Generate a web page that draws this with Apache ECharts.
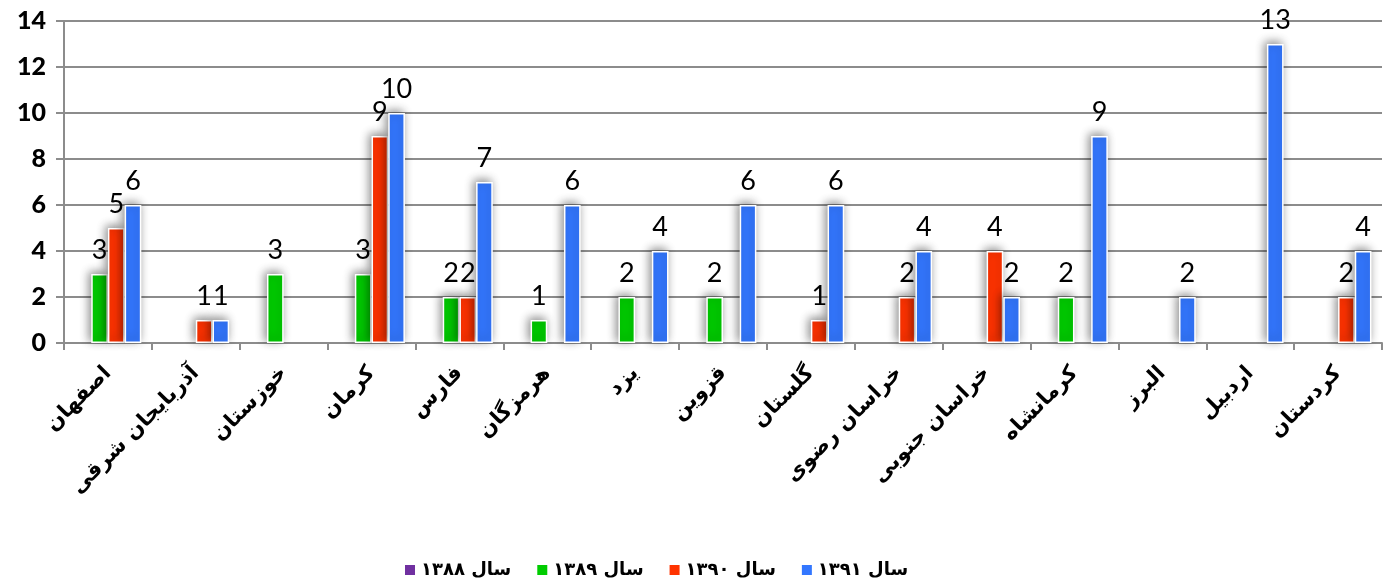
<!DOCTYPE html>
<html>
<head>
<meta charset="utf-8">
<script src="https://cdn.jsdelivr.net/npm/echarts@6/dist/echarts.min.js"></script>
<style>
  html, body { margin: 0; padding: 0; background: #fff; }
  #chart { width: 1389px; height: 583px; }
</style>
</head>
<body>
<div id="chart"></div>
<script>
// Provinces on the category axis
const provinces = ['اصفهان', 'آذربایجان شرقی', 'خوزستان', 'کرمان', 'فارس', 'هرمزگان', 'یزد', 'قزوین', 'گلستان', 'خراسان رضوی', 'خراسان جنوبی', 'کرمانشاه', 'البرز', 'اردبیل', 'کردستان'];

// Yearly counts per province ('-' = no record)
const year1388 = ['-', '-', '-', '-', '-', '-', '-', '-', '-', '-', '-', '-', '-', '-', '-'];
const year1389 = [3, '-', 3, 3, 2, 1, 2, 2, '-', '-', '-', 2, '-', '-', '-'];
const year1390 = [5, 1, '-', 9, 2, '-', '-', '-', 1, 2, 4, '-', '-', '-', 2];
const year1391 = [6, 1, '-', 10, 7, 6, 4, 6, 6, 4, 2, 9, 2, 13, 4];

const seriesNames = ['سال ۱۳۸۸', 'سال ۱۳۸۹', 'سال ۱۳۹۰', 'سال ۱۳۹۱'];
const seriesColors = ['#7030A0', '#00CC00', '#FF3300', '#3377FF'];
const seriesData = [year1388, year1389, year1390, year1391];

const chart = echarts.init(document.getElementById('chart'));

const series = seriesNames.map((name, i) => ({
  name: name,
  type: 'bar',
  data: seriesData[i],
  barGap: '0%',
  barCategoryGap: '24%',
  itemStyle: {
    color: seriesColors[i],
    borderColor: '#ffffff',
    borderWidth: 1.5,
    shadowColor: 'rgba(0,0,0,0.45)',
    shadowBlur: 10,
    shadowOffsetX: -2,
    shadowOffsetY: -2
  },
  label: {
    show: true,
    position: 'top',
    distance: 10,
    color: '#000',
    fontFamily: 'Lato, "DejaVu Sans", sans-serif',
    fontWeight: 'normal',
    fontSize: 27
  }
}));

chart.setOption({
  animation: false,
  backgroundColor: '#ffffff',
  grid: { left: 64, right: 7, top: 21, bottom: 240, containLabel: false },
  legend: {
    left: 398,
    top: 556,
    itemWidth: 12,
    itemHeight: 12,
    itemGap: 24,
    icon: 'rect',
    data: seriesNames,
    textStyle: {
      fontFamily: '"DejaVu Sans", sans-serif',
      fontWeight: 'bold',
      fontSize: 18,
      color: '#000'
    }
  },
  xAxis: {
    type: 'category',
    data: provinces,
    axisLine: { lineStyle: { color: '#8c8c8c', width: 2 } },
    axisTick: { show: true, length: 7, lineStyle: { color: '#8c8c8c', width: 2 } },
    axisLabel: {
      rotate: 45,
      margin: 27,
      interval: 0,
      color: '#000',
      fontFamily: '"DejaVu Sans", sans-serif',
      fontWeight: 'bold',
      fontSize: 21
    }
  },
  yAxis: {
    type: 'value',
    min: 0,
    max: 14,
    interval: 2,
    axisLine: { show: true, lineStyle: { color: '#8c8c8c', width: 2 } },
    axisTick: { show: true, length: 8, lineStyle: { color: '#8c8c8c', width: 2 } },
    splitLine: { lineStyle: { color: '#8c8c8c', width: 2 } },
    axisLabel: {
      margin: 18,
      color: '#000',
      fontFamily: 'Lato, "DejaVu Sans", sans-serif',
      fontWeight: 900,
      fontSize: 25
    }
  },
  series: series
});
</script>
</body>
</html>
